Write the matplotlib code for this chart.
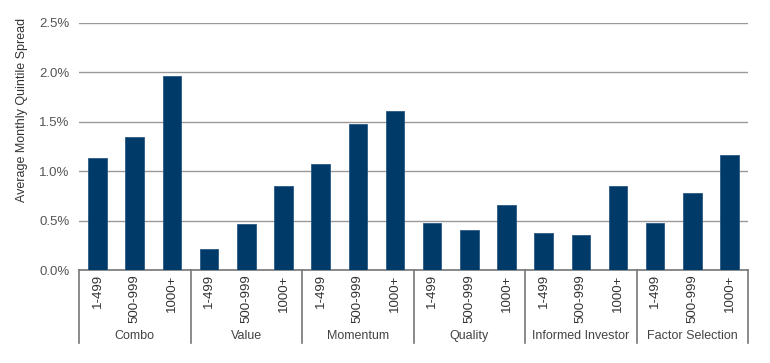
import matplotlib.pyplot as plt
import matplotlib.transforms as mtransforms
from matplotlib.ticker import PercentFormatter

# Data (average monthly quintile spread, %)
groups = ["Combo", "Value", "Momentum", "Quality", "Informed Investor", "Factor Selection"]
buckets = ["1-499", "500-999", "1000+"]
combo = [1.13, 1.35, 1.96]
value = [0.21, 0.47, 0.85]
momentum = [1.07, 1.48, 1.61]
quality = [0.475, 0.41, 0.66]
informed = [0.37, 0.355, 0.85]
factor_sel = [0.48, 0.78, 1.16]

series = [combo, value, momentum, quality, informed, factor_sel]
heights = [v for s in series for v in s]
labels = buckets * len(groups)
xs = list(range(len(heights)))

plt.rcParams["font.family"] = ["Liberation Sans", "DejaVu Sans"]

fig = plt.figure(figsize=(7.7, 3.63), dpi=100)
ax = fig.add_axes([0.1026, 0.256, 0.869, 0.681])

ax.bar(xs, heights, width=0.5, color="#003a68", edgecolor="#2a5a85",
       linewidth=0.6, zorder=3)

ax.set_xlim(-0.5, len(heights) - 0.5)
ax.set_ylim(0, 2.5)
ax.set_yticks([0, 0.5, 1.0, 1.5, 2.0, 2.5])
ax.yaxis.set_major_formatter(PercentFormatter(decimals=1))
ax.grid(axis="y", color="#999999", linewidth=1.0, zorder=0)

ax.set_xticks(xs)
ax.set_xticklabels(labels, rotation=90, fontsize=9.5, color="#333333")
ax.tick_params(axis="x", length=0, pad=3)
ax.tick_params(axis="y", length=0, pad=7, labelsize=9.5, labelcolor="#555555")

for side in ["top", "right", "left"]:
    ax.spines[side].set_visible(False)
ax.spines["bottom"].set_color("#777777")
ax.spines["bottom"].set_linewidth(1.2)

ax.set_ylabel("Average Monthly Quintile Spread", fontsize=9, color="#333333")
ax.yaxis.set_label_coords(-0.076, 0.648)

# group separators and names below the axis
trans = mtransforms.blended_transform_factory(ax.transData, ax.transAxes)
n = len(buckets)
for i in range(len(groups) + 1):
    xpos = i * n - 0.5
    ax.plot([xpos, xpos], [0, -0.296], transform=trans, color="#777777",
            linewidth=1.2, clip_on=False)
for i, g in enumerate(groups):
    ax.text(i * n + 1, -0.267, g, transform=trans, ha="center", va="center",
            fontsize=9, color="#444444")

fig.savefig("out.png", dpi=100)
